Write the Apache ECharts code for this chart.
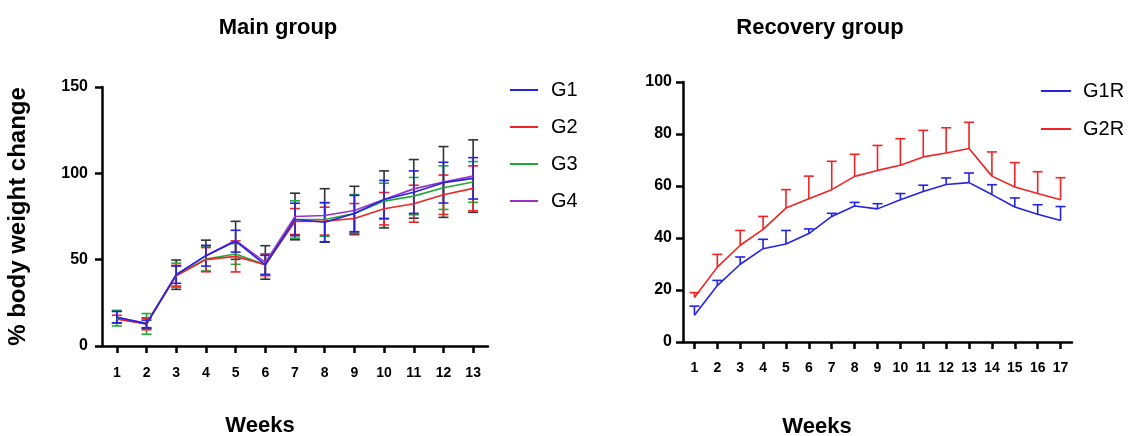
<!DOCTYPE html>
<html>
<head>
<meta charset="utf-8">
<script src="https://cdn.jsdelivr.net/npm/echarts@6/dist/echarts.min.js"></script>
<style>html,body{margin:0;padding:0;background:#fff;}#c{width:1132px;height:436px;}</style>
</head>
<body>
<div id="c"></div>
<script>
// ---- data ----
var weeksMain = ['1','2','3','4','5','6','7','8','9','10','11','12','13'];
var weeksRec = ['1','2','3','4','5','6','7','8','9','10','11','12','13','14','15','16','17'];

var g1Mean = [16.7,12.8,41.3,52.3,60.7,47.0,73.3,71.7,76.7,84.9,89.1,94.6,97.1];
var g1Sd   = [3.3,2.2,5.0,6.0,6.3,5.5,9.4,11.3,10.5,11.0,12.3,11.8,12.0];
var g2Mean = [15.5,12.8,40.7,50.0,51.9,47.0,72.1,72.3,73.8,79.5,82.4,87.6,91.3];
var g2Sd   = [2.3,3.4,6.0,7.0,9.0,6.3,7.5,8.1,8.7,9.4,10.7,11.4,13.0];
var g3Mean = [16.1,12.8,41.0,50.4,53.3,47.0,73.3,73.3,76.7,83.9,86.8,91.7,95.0];
var g3Sd   = [4.5,6.0,7.0,7.0,6.0,6.0,10.8,9.7,11.0,10.4,10.8,12.6,11.8];
var g4Mean = [16.7,13.2,41.3,52.3,61.2,48.4,75.0,75.6,78.5,84.9,91.0,95.0,98.4];
var g4Sd   = [3.5,3.0,8.5,9.0,11.0,9.7,13.5,15.5,14.0,16.5,17.0,20.5,21.0];

var g1rMean = [10.3,21.7,29.9,35.9,37.7,41.7,48.3,52.3,51.2,54.7,57.9,60.6,61.3,56.7,51.9,49.1,46.7];
var g1rSd   = [3.5,2.0,2.8,3.6,5.2,1.8,1.2,1.4,2.0,2.4,2.4,2.5,3.7,3.8,3.5,3.7,5.4];
var g2rMean = [17.1,28.8,37.2,43.3,51.5,55.1,58.6,63.7,66.0,68.0,71.2,72.7,74.4,63.8,59.6,57.1,54.7];
var g2rSd   = [1.9,4.9,5.7,5.0,7.1,8.7,10.9,8.5,9.6,10.2,10.2,9.7,10.1,9.3,9.4,8.4,8.5];

var mainNames = ['G1','G2','G3','G4'];
var recNames = ['G1R','G2R'];

// ---- styles ----
var BLUE = '#2424e0', RED = '#f02424', GREEN = '#22a83a', PURPLE = '#9b30c8', BLACK = '#333333';
var FONT = 'Liberation Sans';

function errData(mean, sd, upOnly) {
  return mean.map(function (m, i) { return [i, upOnly ? m : m - sd[i], m + sd[i]]; });
}
function errRender(color, upOnly, capHalf) {
  return function (params, api) {
    var x = api.value(0);
    var lo = api.coord([x, api.value(1)]);
    var hi = api.coord([x, api.value(2)]);
    var st = { stroke: color, lineWidth: 1.6 };
    var ch = [
      { type: 'line', shape: { x1: hi[0], y1: hi[1], x2: lo[0], y2: lo[1] }, style: st },
      { type: 'line', shape: { x1: hi[0] - capHalf, y1: hi[1], x2: hi[0] + capHalf, y2: hi[1] }, style: st }
    ];
    if (!upOnly) ch.push({ type: 'line', shape: { x1: lo[0] - capHalf, y1: lo[1], x2: lo[0] + capHalf, y2: lo[1] }, style: st });
    return { type: 'group', children: ch };
  };
}
function errSeries(mean, sd, color, xi, upOnly) {
  return {
    type: 'custom', xAxisIndex: xi, yAxisIndex: xi, silent: true,
    renderItem: errRender(color, upOnly, 5),
    data: errData(mean, sd, upOnly), z: 2
  };
}
function lineSeries(name, data, color, xi) {
  return {
    type: 'line', name: name, xAxisIndex: xi, yAxisIndex: xi, data: data,
    symbol: 'none', lineStyle: { color: color, width: 1.6 }, itemStyle: { color: color },
    z: 3, animation: false
  };
}

var axisLine = { show: true, lineStyle: { color: '#000', width: 2.5 } };
var axisTick = { show: true, length: 7, lineStyle: { color: '#000', width: 2.5 } };

var option = {
  animation: false,
  textStyle: { fontFamily: FONT },
  title: [
    { text: 'Main group', left: 273, top: 12, textAlign: 'center', textStyle: { fontFamily: FONT, fontSize: 22, fontWeight: 'bold', color: '#000' } },
    { text: 'Recovery group', left: 815, top: 12, textAlign: 'center', textStyle: { fontFamily: FONT, fontSize: 22, fontWeight: 'bold', color: '#000' } },
    { text: 'Weeks', left: 255, top: 410, textAlign: 'center', textStyle: { fontFamily: FONT, fontSize: 22, fontWeight: 'bold', color: '#000' } },
    { text: 'Weeks', left: 812, top: 411, textAlign: 'center', textStyle: { fontFamily: FONT, fontSize: 22, fontWeight: 'bold', color: '#000' } }
  ],
  legend: [
    { data: mainNames, orient: 'vertical', left: 505, top: 75, icon: 'rect', itemWidth: 28, itemHeight: 2, itemGap: 17,
      textStyle: { fontFamily: FONT, fontSize: 20, color: '#000', lineHeight: 20, padding: [0, 0, 0, 8] } },
    { data: recNames, orient: 'vertical', left: 1036, top: 76, icon: 'rect', itemWidth: 30, itemHeight: 2, itemGap: 18,
      textStyle: { fontFamily: FONT, fontSize: 20, color: '#000', lineHeight: 20, padding: [0, 0, 0, 7] } }
  ],
  grid: [
    { left: 102, top: 87, width: 386, height: 259 },
    { left: 683, top: 82, width: 389, height: 260 }
  ],
  xAxis: [
    { type: 'category', gridIndex: 0, data: weeksMain, boundaryGap: true,
      axisLine: axisLine, axisTick: Object.assign({ alignWithLabel: true }, axisTick),
      axisLabel: { margin: 20, fontFamily: FONT, fontSize: 14, fontWeight: 'bold', color: '#000' } },
    { type: 'category', gridIndex: 1, data: weeksRec, boundaryGap: true,
      axisLine: axisLine, axisTick: Object.assign({ alignWithLabel: true }, axisTick),
      axisLabel: { margin: 19, fontFamily: FONT, fontSize: 14, fontWeight: 'bold', color: '#000' } }
  ],
  yAxis: [
    { type: 'value', gridIndex: 0, min: 0, max: 150, interval: 50,
      name: '% body weight change', nameLocation: 'middle', nameGap: 72,
      nameTextStyle: { fontFamily: FONT, fontSize: 24, fontWeight: 'bold', color: '#000' },
      axisLine: axisLine, axisTick: axisTick, splitLine: { show: false },
      axisLabel: { margin: 14, fontFamily: FONT, fontSize: 16, fontWeight: 'bold', color: '#000' } },
    { type: 'value', gridIndex: 1, min: 0, max: 100, interval: 20,
      axisLine: axisLine, axisTick: axisTick, splitLine: { show: false },
      axisLabel: { margin: 11, fontFamily: FONT, fontSize: 16, fontWeight: 'bold', color: '#000' } }
  ],
  series: [
    errSeries(g4Mean, g4Sd, BLACK, 0, false),
    errSeries(g3Mean, g3Sd, GREEN, 0, false),
    errSeries(g2Mean, g2Sd, RED, 0, false),
    errSeries(g1Mean, g1Sd, BLUE, 0, false),
    lineSeries('G4', g4Mean, PURPLE, 0),
    lineSeries('G3', g3Mean, GREEN, 0),
    lineSeries('G2', g2Mean, RED, 0),
    lineSeries('G1', g1Mean, BLUE, 0),
    errSeries(g1rMean, g1rSd, BLUE, 1, true),
    errSeries(g2rMean, g2rSd, RED, 1, true),
    lineSeries('G1R', g1rMean, BLUE, 1),
    lineSeries('G2R', g2rMean, RED, 1)
  ]
};
var chart = echarts.init(document.getElementById('c'), null, { renderer: 'canvas' });
chart.setOption(option);
</script>
</body>
</html>
